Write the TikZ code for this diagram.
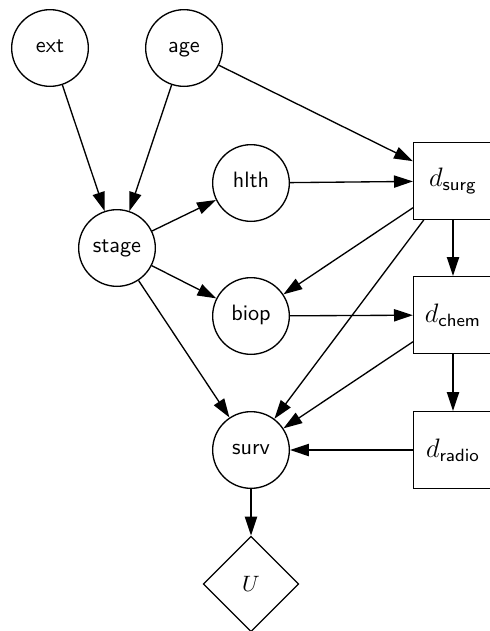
\documentclass[tikz,border=0pt]{standalone}
\usetikzlibrary{arrows.meta,shapes.geometric}
\begin{document}
\begin{tikzpicture}[x=0.45pt,y=-0.45pt,
  chance/.style={circle,draw,line width=0.6pt,minimum size=34.5pt,inner sep=0pt,
    font=\sffamily,text height=1ex,text depth=0pt},
  decision/.style={rectangle,draw,line width=0.6pt,minimum width=35.5pt,minimum height=34.5pt,inner sep=0pt,font=\large},
  utility/.style={diamond,draw,line width=0.6pt,minimum width=43pt,minimum height=43pt,inner sep=0pt,aspect=1},
  arc/.style={line width=0.6pt,-{Triangle[length=8.5pt,width=5.5pt]}}]
  \useasboundingbox (0,0) rectangle (490,631);
  \clip (0,0) rectangle (490,631);
  % chance nodes
  \node[chance] (ext)   at (50,48)  {ext};
  \node[chance] (age)   at (184,48) {age};
  \node[chance] (stage) at (117,248) {stage};
  \node[chance] (hlth)  at (251,183) {hlth};
  \node[chance] (biop)  at (251,316) {biop};
  \node[chance] (surv)  at (251,450) {surv};
  % decision nodes
  \node[decision] (dsurg)  at (453,181) {$d_{\mathsf{surg}}$};
  \node[decision] (dchem)  at (453,315) {$d_{\mathsf{chem}}$};
  \node[decision] (dradio) at (453,450) {$d_{\mathsf{radio}}$};
  % utility node
  \node[utility] (U) at (251,584) {$U$};
  % arcs
  \draw[arc] (ext) -- (stage);
  \draw[arc] (age) -- (stage);
  \draw[arc] (age) -- (dsurg);
  \draw[arc] (stage) -- (hlth);
  \draw[arc] (stage) -- (biop);
  \draw[arc] (stage) -- (surv);
  \draw[arc] (hlth) -- (dsurg);
  \draw[arc] (dsurg) -- (biop);
  \draw[arc] (dsurg) -- (surv);
  \draw[arc] (dsurg) -- (dchem);
  \draw[arc] (biop) -- (dchem);
  \draw[arc] (dchem) -- (surv);
  \draw[arc] (dchem) -- (dradio);
  \draw[arc] (dradio) -- (surv);
  \draw[arc] (surv) -- (U);
\end{tikzpicture}
\end{document}
